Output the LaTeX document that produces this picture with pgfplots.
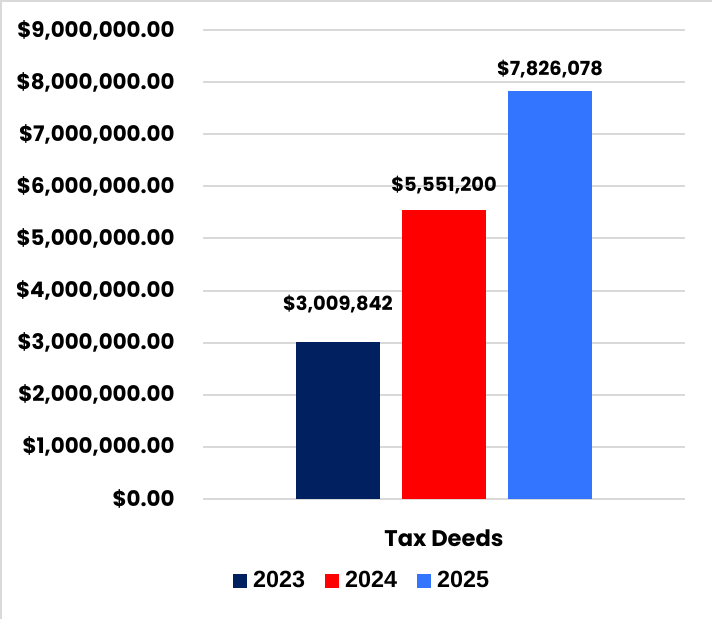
\documentclass[border=0pt]{standalone}
\usepackage{pgfplots}
\pgfplotsset{compat=1.18}
\usepackage{fontspec}
\setmainfont{Poppins}
\newfontfamily\legfont{Liberation Sans}
\definecolor{c23}{HTML}{002060}
\definecolor{c24}{HTML}{FF0000}
\definecolor{c25}{HTML}{3375FF}
\definecolor{gridc}{HTML}{D9D9D9}
\pgfplotsset{
  legsq/.style={legend image code/.code={\fill[##1] (0pt,-3.5pt) rectangle (7pt,3.5pt);}}
}
\begin{document}
\begin{tikzpicture}
\path[use as bounding box] (-101.5pt,-60pt) rectangle (254.5pt,249.5pt);
\begin{axis}[
  at={(0pt,0pt)}, anchor=south west,
  scale only axis, width=241pt, height=234.5pt,
  xmin=-0.5, xmax=0.5, ymin=0, ymax=9000000,
  ybar=11pt, bar width=42pt,
  axis line style={draw=none},
  tick style={draw=none},
  scaled y ticks=false,
  ymajorgrids,
  grid style={draw=gridc, line width=1pt},
  ytick={0,1000000,2000000,3000000,4000000,5000000,6000000,7000000,8000000,9000000},
  yticklabels={{\$0.00},{\$1,000,000.00},{\$2,000,000.00},{\$3,000,000.00},{\$4,000,000.00},{\$5,000,000.00},{\$6,000,000.00},{\$7,000,000.00},{\$8,000,000.00},{\$9,000,000.00}},
  yticklabel style={anchor=east, inner sep=0pt, xshift=-14pt, font=\bfseries\fontsize{10.7}{13}\selectfont},
  xtick={0}, xticklabels={Tax Deeds},
  xticklabel style={anchor=center, inner sep=0pt, yshift=-15.5pt, font=\bfseries\fontsize{11.3}{13}\selectfont},
  nodes near coords,
  point meta=explicit symbolic,
  every node near coord/.append style={anchor=center, font=\bfseries\fontsize{9.7}{12}\selectfont},
  clip=false,
  legend columns=3,
  legend style={draw=none, at={(0.328,0)}, anchor=center, yshift=-41pt,
    font=\legfont\bfseries\fontsize{11.7}{14}\selectfont,
    nodes={inner sep=0pt},
    /tikz/every odd column/.append style={column sep=3pt},
    /tikz/every even column/.append style={column sep=10pt}},
]
\addplot[fill=c23, draw=none, legsq, every node near coord/.append style={yshift=19pt}]
  coordinates {(0,3009842) [\$3,009,842]};
\addplot[fill=c24, draw=none, legsq, every node near coord/.append style={yshift=12.5pt}]
  coordinates {(0,5551200) [\$5,551,200]};
\addplot[fill=c25, draw=none, legsq, every node near coord/.append style={yshift=11.25pt}]
  coordinates {(0,7826078) [\$7,826,078]};
\legend{2023,2024,2025}
\end{axis}
\draw[gridc, line width=2pt] (-101.5pt,-61pt) -- (-101.5pt,249.5pt) -- (255pt,249.5pt);
\end{tikzpicture}
\end{document}
